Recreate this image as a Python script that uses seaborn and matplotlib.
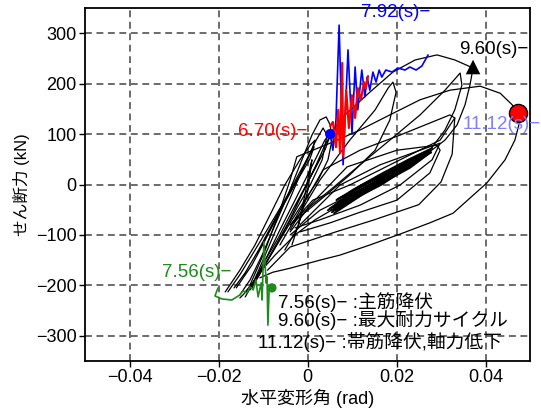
import matplotlib
matplotlib.use("Agg")
import matplotlib.pyplot as plt
import seaborn as sns
import pandas as pd

# ---------------- data (rad, kN) ----------------
loop_960 = [(-0.0140, -223), (-0.0118, -189), (-0.0095, -150), (-0.0062, -90), (-0.0028, -31),
            (0.0006, 29), (0.0039, 88), (0.0084, 138), (0.0140, 183), (0.0192, 223),
            (0.0242, 247), (0.0291, 257), (0.0331, 247), (0.0372, 231), (0.0365, 197),
            (0.0354, 158), (0.0336, 118), (0.0309, 88), (0.0264, 58), (0.0208, 29),
            (0.0140, -7), (0.0073, -41), (0.0017, -70), (-0.0028, -100), (-0.0073, -140),
            (-0.0107, -174), (-0.0134, -209), (-0.0152, -225)]
loop_1112 = [(-0.0129, -199), (-0.0095, -130), (-0.0062, -51), (-0.0039, 9), (-0.0024, 55),
             (0.0051, 82), (0.0118, 108), (0.0185, 138), (0.0253, 168), (0.0320, 187),
             (0.0388, 195), (0.0433, 181), (0.0460, 158), (0.0473, 142), (0.0475, 118),
             (0.0466, 88), (0.0444, 49), (0.0403, 3), (0.0365, -27), (0.0327, -57),
             (0.0275, -76), (0.0215, -96), (0.0140, -120), (0.0073, -140), (0.0028, -150),
             (-0.0039, -166), (-0.0078, -174), (-0.0107, -185)]
loop_finger1 = [(-0.0017, -60), (0.0051, -11), (0.0118, 39), (0.0185, 88), (0.0253, 138),
                (0.0309, 187), (0.0343, 221), (0.0347, 197), (0.0331, 148), (0.0309, 108),
                (0.0275, 68), (0.0208, 29), (0.0118, -11), (0.0028, -51), (-0.0039, -100)]
loop_finger2 = [(-0.0039, -90), (0.0028, 9), (0.0095, 88), (0.0152, 148), (0.0181, 191),
                (0.0192, 203), (0.0199, 183), (0.0185, 128), (0.0152, 68), (0.0095, 19),
                (0.0028, -31), (-0.0039, -80)]
loop_low = [(0.0331, 132), (0.0325, 60), (0.0300, 5), (0.0250, -40), (0.0150, -70),
            (0.0060, -95), (-0.0039, -124), (-0.0090, -170)]
loop_cap1 = [(-0.0152, -219), (-0.0129, -189), (-0.0102, -140), (-0.0073, -80), (-0.0044, -21),
             (-0.0017, 39), (0.0010, 98), (0.0028, 128), (0.0042, 134), (0.0051, 118),
             (0.0055, 88), (0.0046, 49), (0.0024, 9), (-0.0006, -31), (-0.0035, -70),
             (-0.0062, -110), (-0.0089, -150), (-0.0118, -189), (-0.0140, -213)]
loop_cap2 = [(-0.0129, -209), (-0.0102, -154), (-0.0073, -94), (-0.0039, -27), (-0.0010, 33),
             (0.0017, 84), (0.0035, 112), (0.0044, 98), (0.0033, 49), (0.0006, -1),
             (-0.0024, -47), (-0.0051, -90), (-0.0080, -134), (-0.0102, -170), (-0.0125, -205)]
loop_cap3 = [(-0.0185, -213), (-0.0152, -170), (-0.0118, -120), (-0.0084, -60), (-0.0051, -1),
             (-0.0017, 49), (0.0006, 78), (0.0017, 88), (0.0010, 68), (-0.0017, 19),
             (-0.0051, -31), (-0.0084, -80), (-0.0118, -130), (-0.0152, -179), (-0.0179, -213)]
loop_neg1 = [(-0.0165, -205), (-0.0140, -175), (-0.0110, -130), (-0.0080, -80), (-0.0050, -30),
             (-0.0020, 20), (0.0005, 60), (0.0015, 75), (0.0005, 50), (-0.0025, 5),
             (-0.0060, -50), (-0.0095, -110), (-0.0125, -160), (-0.0160, -205)]
loop_neg2 = [(-0.0120, -195), (-0.0100, -165), (-0.0070, -120), (-0.0040, -70), (-0.0010, -15),
             (0.0020, 40), (0.0040, 80), (0.0050, 95), (0.0040, 70), (0.0010, 20),
             (-0.0030, -45), (-0.0065, -105), (-0.0095, -150), (-0.0118, -190)]
loop_steep = [(-0.0051, -130), (-0.0021, -84), (-0.0006, -21), (0.0006, 35), (0.0010, 49),
              (0.0001, -11), (-0.0017, -70), (-0.0035, -120)]
loop_mid = [(-0.0062, -120), (-0.0017, -51), (0.0035, 29), (0.0118, 68), (0.0208, 98),
            (0.0320, 138), (0.0331, 132), (0.0298, 88), (0.0208, 49), (0.0095, -1),
            (0.0012, -31), (-0.0039, -80)]
loop_env1 = [(-0.0039, -94), (0.0006, -41), (0.0089, 35), (0.0201, 68), (0.0291, 78),
             (0.0298, 68), (0.0275, 23), (0.0201, -31), (0.0118, -55), (0.0051, -76),
             (-0.0017, -94)]
loop_env2 = [(-0.0017, -80), (0.0073, -1), (0.0163, 39), (0.0253, 68), (0.0298, 82),
             (0.0280, 49), (0.0208, -1), (0.0118, -41), (0.0028, -70), (-0.0028, -86)]
band_1 = [(0.0046, -51), (0.0107, -11), (0.0163, 15), (0.0219, 43), (0.0275, 68),
          (0.0235, 40), (0.0181, 13), (0.0122, -17), (0.0062, -51)]
band_2 = [(0.0055, -55), (0.0111, -17), (0.0167, 9), (0.0224, 37), (0.0271, 60),
          (0.0230, 33), (0.0176, 7), (0.0118, -23), (0.0060, -57)]
band_3 = [(0.0062, -41), (0.0113, -5), (0.0170, 23), (0.0226, 49), (0.0280, 72),
          (0.0239, 49), (0.0185, 21), (0.0129, -7), (0.0069, -39)]
band_4 = [(0.0073, -39), (0.0122, -13), (0.0174, 13), (0.0230, 45), (0.0266, 64),
          (0.0226, 37), (0.0172, 5), (0.0118, -21), (0.0069, -45)]
band_5 = [(0.0051, -47), (0.0096, -23), (0.0145, 1), (0.0197, 29), (0.0253, 56),
          (0.0275, 68), (0.0219, 33), (0.0158, 1), (0.0100, -29), (0.0053, -51)]
band_6 = [(0.0084, -31), (0.0136, -3), (0.0190, 23), (0.0242, 53), (0.0262, 62),
          (0.0217, 31), (0.0163, 7), (0.0107, -23), (0.0080, -37)]
band_7 = [(0.0064, -51), (0.0118, -21), (0.0176, 9), (0.0235, 41), (0.0278, 64),
          (0.0244, 49), (0.0190, 17), (0.0132, -11), (0.0071, -47)]
band_8 = [(0.0096, -27), (0.0145, -7), (0.0199, 21), (0.0249, 49), (0.0271, 64),
          (0.0230, 39), (0.0176, 11), (0.0122, -15), (0.0091, -31)]
band_9 = [(0.0060, -47), (0.0100, -27), (0.0140, -9), (0.0190, 15), (0.0240, 43),
          (0.0272, 62), (0.0230, 43), (0.0180, 19), (0.0130, -5), (0.0085, -27), (0.0058, -45)]
band_10 = [(0.0070, -35), (0.0110, -15), (0.0150, 3), (0.0200, 27), (0.0250, 53),
           (0.0268, 60), (0.0225, 35), (0.0170, 11), (0.0120, -13), (0.0075, -37)]
band_11 = [(0.0080, -43), (0.0125, -19), (0.0165, -1), (0.0210, 25), (0.0255, 51),
           (0.0276, 66), (0.0238, 45), (0.0188, 17), (0.0138, -9), (0.0090, -35)]
band_12 = [(0.0065, -31), (0.0105, -9), (0.0155, 13), (0.0205, 35), (0.0262, 60),
           (0.0245, 53), (0.0195, 29), (0.0145, 7), (0.0100, -15), (0.0068, -29)]

seg_670_x = [0.0051, 0.0057, 0.0064, 0.0069, 0.0073, 0.0078, 0.0080, 0.0087, 0.0093,
             0.0100, 0.0107, 0.0113, 0.0120, 0.0127, 0.0131, 0.0136]
seg_670_y = [116, 124, 74, 148, 64, 241, 55, 187, 112, 177, 132, 191, 168, 203, 191, 215]

seg_792_x = [0.0051, 0.0057, 0.0064, 0.0071, 0.0080, 0.0091, 0.0100, 0.0107, 0.0113,
             0.0122, 0.0129, 0.0134, 0.0140, 0.0147, 0.0154, 0.0161, 0.0167, 0.0176,
             0.0190, 0.0203, 0.0219, 0.0230, 0.0244, 0.0257, 0.0271]
seg_792_y = [100, 68, 128, 316, 39, 267, 102, 233, 148, 227, 174, 213, 187, 223, 203,
             227, 213, 227, 223, 231, 227, 233, 227, 235, 257]

seg_756_x = [-0.0201, -0.0208, -0.0192, -0.0170, -0.0152, -0.0145, -0.0136, -0.0129,
             -0.0122, -0.0116, -0.0111, -0.0104, -0.0102, -0.0098, -0.0093, -0.0091,
             -0.0089, -0.0086, -0.0080]
seg_756_y = [-205, -221, -227, -229, -219, -211, -215, -203, -209, -189, -223, -195,
             -229, -114, -195, -183, -279, -203, -205]

marker_x = [0.0051, -0.0080, 0.0372, 0.0473]
marker_y = [100, -205, 233, 142]

x_ticks = [-0.04, -0.02, 0, 0.02, 0.04]
x_tick_labels = ["−0.04", "−0.02", "0", "0.02", "0.04"]
y_ticks = [-300, -200, -100, 0, 100, 200, 300]
y_tick_labels = ["−300", "−200", "−100", "0", "100", "200", "300"]

note_lines = ["7.56(s)− :主筋降伏", "9.60(s)− :最大耐力サイクル", "11.12(s)− :帯筋降伏,軸力低下"]

# ---------------- figure ----------------
sns.set_theme(style="ticks")
plt.rcParams['font.family'] = ['Liberation Sans', 'Noto Sans CJK JP', 'DejaVu Sans']
plt.rcParams['axes.unicode_minus'] = True

fig = plt.figure(figsize=(5.41, 4.08), dpi=100)
ax = fig.add_axes([85 / 541, 47 / 408, 445 / 541, 353 / 408])


def to_frame(loops):
    rows = []
    for i, lp in enumerate(loops):
        for j, (xv, yv) in enumerate(lp):
            rows.append({"x": xv, "y": yv, "seg": i, "k": j})
    return pd.DataFrame(rows)


wide_loops = [loop_960, loop_1112, loop_finger1, loop_finger2, loop_low, loop_cap1, loop_cap2,
              loop_cap3, loop_neg1, loop_neg2, loop_steep, loop_mid, loop_env1, loop_env2]
band_loops = [band_1, band_2, band_3, band_4, band_5, band_6, band_7, band_8,
              band_9, band_10, band_11, band_12]

sns.lineplot(data=to_frame(wide_loops), x="x", y="y", units="seg", estimator=None, sort=False,
             color="black", lw=0.9, ax=ax, zorder=3)
sns.lineplot(data=to_frame(band_loops), x="x", y="y", units="seg", estimator=None, sort=False,
             color="black", lw=1.4, ax=ax, zorder=3)

sns.lineplot(x=seg_756_x, y=seg_756_y, sort=False, estimator=None, color="#1e8a1e",
             lw=1.2, ax=ax, zorder=4)
sns.lineplot(x=seg_792_x, y=seg_792_y, sort=False, estimator=None, color="#0000ff",
             lw=1.2, ax=ax, zorder=4)
sns.lineplot(x=seg_670_x, y=seg_670_y, sort=False, estimator=None, color="#ff0000",
             lw=1.6, ax=ax, zorder=5)

sns.scatterplot(x=[marker_x[0]], y=[marker_y[0]], color="#0000ff", s=55, marker="o",
                edgecolor="none", ax=ax, zorder=6)
sns.scatterplot(x=[marker_x[1]], y=[marker_y[1]], color="#1e8a1e", s=45, marker="o",
                edgecolor="none", ax=ax, zorder=6)
sns.scatterplot(x=[marker_x[2]], y=[marker_y[2]], color="black", s=110, marker="^",
                edgecolor="none", ax=ax, zorder=6)
sns.scatterplot(x=[marker_x[3]], y=[marker_y[3]], color="#ff0000", s=170, marker="o",
                edgecolor="black", linewidth=1.0, ax=ax, zorder=7)

# labels on the curves
fs = 13.5
ax.text(0.0275, 342, "7.92(s)−", color="#0000ff", fontsize=fs, ha="right", va="center", zorder=8)
ax.text(-0.0001, 106, "6.70(s)−", color="#ff0000", fontsize=fs, ha="right", va="center", zorder=8)
ax.text(0.0496, 267, "9.60(s)−", color="black", fontsize=fs, ha="right", va="center", zorder=8)
ax.text(0.0348, 118, "11.12(s)−", color="#8080ff", fontsize=fs, ha="left", va="center",
        zorder=8, clip_on=False)
ax.text(-0.0170, -174, "7.56(s)−", color="#1e8a1e", fontsize=fs, ha="right", va="center", zorder=8)

ax.text(-0.0066, -233, note_lines[0], color="black", fontsize=fs, ha="left", va="center", zorder=8)
ax.text(-0.0066, -269, note_lines[1], color="black", fontsize=fs, ha="left", va="center", zorder=8)
ax.text(-0.0111, -312, note_lines[2], color="black", fontsize=fs, ha="left", va="center", zorder=8)

ax.set_xlim(-0.05, 0.05)
ax.set_ylim(-350, 350)
ax.set_xticks(x_ticks)
ax.set_xticklabels(x_tick_labels)
ax.set_yticks(y_ticks)
ax.set_yticklabels(y_tick_labels)
ax.tick_params(direction="out", length=4, width=1, pad=2, labelsize=13, colors="black")

ax.grid(True, color="#444444", linestyle=(0, (4.5, 3)), linewidth=1.1)
ax.set_axisbelow(True)
for sp in ax.spines.values():
    sp.set_visible(True)
    sp.set_color("black")
    sp.set_linewidth(1.3)

ax.set_xlabel("水平変形角 (rad)", fontsize=13, color="black", labelpad=2)
ax.set_ylabel("せん断力 (kN)", fontsize=12, color="black", labelpad=4)
ax.set_facecolor("white")
fig.patch.set_facecolor("white")

fig.savefig("out.png", dpi=100)
